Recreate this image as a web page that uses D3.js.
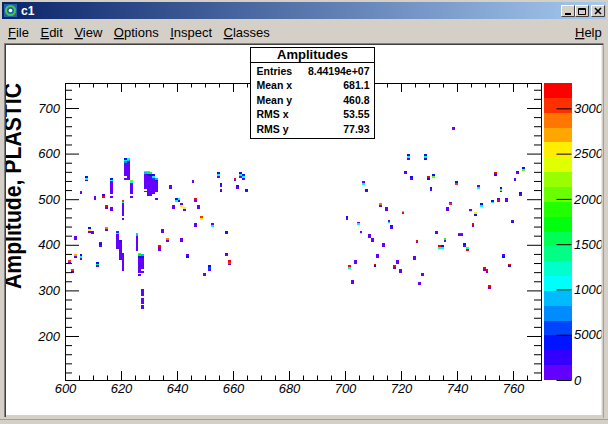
<!DOCTYPE html>
<html>
<head>
<meta charset="utf-8">
<script src="https://cdn.jsdelivr.net/npm/d3@7"></script>
<style>
  body { margin: 0; background: #d4d0c8; overflow: hidden; }
  svg { display: block; }
</style>
</head>
<body>
<div id="c1"></div>
<script>
// ---- data ----
// each spot: x bin (width 1), top y bin (width 4), bin contents going down in y
const spotX = [
  // dense columns 615-630
  621, 622, 616, 623, 628, 629, 630, 631, 632, 620, 618, 619, 620, 625, 626, 627, 627,
  // scattered 600-620
  601, 602, 603, 603, 605, 605, 607, 610, 608, 609, 611, 612, 613, 614, 614, 616,
  // scattered 630-665
  637, 645, 654, 655, 655, 660, 661, 662, 663, 664, 639, 640, 638, 641, 642,
  646, 647, 648, 646, 652, 657, 634, 636, 633, 641, 643, 651, 649, 657, 658,
  // scattered 700-765
  738, 722, 728, 721, 723, 729, 731, 739, 730, 706, 707, 747, 753, 755, 761, 760,
  763, 762, 757, 754, 752, 748, 737, 736, 744, 746, 712, 714, 720, 700, 704, 715,
  716, 745, 759, 705, 708, 709, 732, 740, 741, 735, 713, 725, 733, 734, 742, 743,
  703, 701, 711, 710, 717, 718, 719, 724, 727, 726, 702, 749, 750, 756, 758, 751
];
const spotTop = [
  588, 588, 544, 540, 560, 560, 556, 552, 544, 496, 428, 408, 380, 424, 380, 376, 300,
  364, 344, 416, 376, 376, 516, 548, 504, 436, 428, 360, 404, 508, 484, 436, 480,
  528, 540, 556, 532, 520, 544, 528, 556, 552, 520, 500, 500, 484, 488, 480,
  500, 484, 460, 444, 444, 428, 432, 412, 396, 412, 376, 352, 336, 380, 364,
  656, 596, 596, 560, 548, 548, 552, 536, 524, 536, 520, 528, 556, 524, 560, 544,
  568, 512, 500, 500, 496, 488, 492, 480, 476, 468, 488, 480, 472, 460, 448, 452,
  440, 444, 452, 428, 420, 412, 428, 424, 424, 412, 400, 408, 396, 396, 400, 392,
  364, 352, 376, 356, 352, 364, 344, 372, 336, 316, 320, 348, 344, 376, 356, 308
];
const spotZ = [
  [4200, 12400, 7500, 900, 1100, 800, 900, 1000, 700, 900, 0, 600],
  [12400, 9200, 2500, 900, 1200, 900, 800, 1000, 900, 700, 900, 800],
  [4200, 10800, 900, 1000, 800, 900, 700, 1100, 900, 0, 600],
  [20600, 10800, 900, 800, 1000, 900, 700, 900, 0, 600],
  [12400, 9200, 900, 800, 1000, 900, 700, 1100, 900, 800, 0, 900],
  [14000, 17300, 2500, 900, 1200, 1000, 900, 1100, 800, 900, 1000, 700, 900, 800],
  [15700, 4200, 1000, 900, 1300, 1100, 900, 1000, 800, 900, 700, 1000, 800],
  [2500, 10800, 5800, 1000, 900, 1200, 900, 800, 1000, 900, 700],
  [9200, 4200, 900, 1000, 800, 900, 700, 900, 0, 0, 0, 600],
  [30500, 12400, 900, 1000, 800, 900, 1100, 900, 700, 0, 600],
  [5800, 10800, 900, 1000, 800, 900, 1100, 900, 700, 900],
  [2500, 900, 1000, 900, 800, 1100, 900, 700, 900, 1000, 800],
  [900, 1000, 800, 900, 1200, 900, 700, 900, 1000, 600],
  [19000, 9200, 900, 1000, 800, 900, 1100, 900, 700, 900],
  [12400, 17300, 4200, 900, 1000, 800, 900, 1100, 900, 700, 900, 0, 600],
  [9200, 2500, 900, 1000, 800, 900, 1100, 900, 0, 600],
  [900, 800, 900, 1000, 0, 800, 900, 700, 0, 900, 600],
  // 600-620
  [30500, 900], [30500, 2500], [900, 900], [27200, 900], [4200, 12400, 900], [32200, 900],
  [4200, 12400, 2500], [900, 900], [4200, 25500, 900], [900, 900], [4200, 15700, 900],
  [900, 4200, 900], [2500, 32200], [32200, 900], [28800, 900], [900, 900],
  // 630-665
  [900, 900], [900, 900], [4200, 12400, 900], [4200, 900], [900, 4200], [32200, 900],
  [2500, 900], [4200, 12400, 900], [4200, 10800, 900], [4200, 900], [4200, 12400],
  [10800, 4200], [900, 900], [900, 25500], [25500, 900],
  [32200, 900], [900, 900], [30500, 25500], [900, 900], [900, 12400], [4200, 900],
  [900, 900], [28800, 900], [32200, 900, 900], [900, 900], [900, 4200], [4200, 5800, 900],
  [900, 900], [2500, 900], [32200, 30500, 900],
  // 700-765
  [900, 32200], [4200, 12400, 900], [4200, 14000, 2500], [2500, 900], [4200, 900],
  [32200, 4200], [4200, 20600], [4200, 30500], [4200, 900], [900, 12400], [2500, 900],
  [900, 12400], [32200, 2500], [4200, 20600, 900], [4200, 900], [900, 900],
  [4200, 20600], [4200, 900], [900, 900], [900, 32200], [4200, 12400], [4200, 12400],
  [900, 30500], [900, 900], [900, 25500], [25500, 4200], [28800, 900], [900, 900],
  [12400, 32200], [4200, 900], [900, 12400], [900, 12400],
  [2500, 900], [32200, 900], [900, 4200], [900, 23900], [900, 900], [900, 900],
  [900, 900], [32200, 900], [32200, 900], [19000, 900], [900, 900], [32200, 900],
  [32200, 12400], [4200, 12400], [4200, 900], [12400, 32200],
  [900, 900], [32200, 12400], [900, 900], [32200, 4200], [32200, 900], [900, 900],
  [900, 900], [900, 900], [900, 900], [900, 900], [900, 900], [32200, 900],
  [32200, 900], [900, 4200], [32200, 4200], [32200, 900]
];

const xTickValues = [600, 620, 640, 660, 680, 700, 720, 740, 760];
const yTickValues = [200, 300, 400, 500, 600, 700];
const zTickValues = [0, 5000, 10000, 15000, 20000, 25000, 30000];
const statNames = ["Entries", "Mean x", "Mean y", "RMS x", "RMS y"];
const statValues = ["8.44194e+07", "681.1", "460.8", "53.55", "77.93"];
const histTitle = "Amplitudes";
const yTitle = "Amplitude, PLASTIC";
const menuItems = ["File", "Edit", "View", "Options", "Inspect", "Classes"];

// ---- layout ----
const W = 608, H = 424;
const zMax = 32800, nContours = 20, nColors = 50, yBin = 4;
const font = "'Liberation Sans', Arial, sans-serif";

const svg = d3.select("#c1").append("svg")
  .attr("width", W).attr("height", H)
  .style("font-family", font);

svg.append("rect").attr("width", W).attr("height", H).attr("fill", "#d4d0c8");

// window title bar
const defs = svg.append("defs");
const grad = defs.append("linearGradient").attr("id", "cap");
grad.append("stop").attr("offset", "0%").attr("stop-color", "#0a246a");
grad.append("stop").attr("offset", "100%").attr("stop-color", "#a6caf0");
svg.append("rect").attr("x", 2).attr("y", 2).attr("width", 604).attr("height", 17)
  .attr("fill", "url(#cap)");

// little ROOT icon
svg.append("rect").attr("x", 4).attr("y", 4).attr("width", 13).attr("height", 13)
  .attr("fill", "#2a5fb0");
svg.append("circle").attr("cx", 10.5).attr("cy", 10.5).attr("r", 4.5)
  .attr("fill", "none").attr("stroke", "#3fcf3f").attr("stroke-width", 2);
svg.append("circle").attr("cx", 10.5).attr("cy", 10.5).attr("r", 1.8).attr("fill", "#ffffff");

svg.append("text").attr("x", 21).attr("y", 15).attr("fill", "#fff")
  .style("font-weight", "bold").style("font-size", "12px").text("c1");

// caption buttons
const btnX = [561, 575, 591];
btnX.forEach(function (bx, i) {
  const b = svg.append("g").attr("transform", "translate(" + bx + ",5)");
  b.append("rect").attr("width", 14).attr("height", 12).attr("fill", "#d4d0c8");
  b.append("path").attr("d", "M0.5,11.5V0.5H13.5").attr("stroke", "#fff").attr("fill", "none");
  b.append("path").attr("d", "M0.5,11.5H13.5V0.5").attr("stroke", "#404040").attr("fill", "none");
  if (i === 0) b.append("rect").attr("x", 4).attr("y", 8).attr("width", 6).attr("height", 2).attr("fill", "#000");
  if (i === 1) b.append("path").attr("d", "M3.5,3.5H10.5V9.5H3.5Z M3.5,4.5H10.5")
    .attr("stroke", "#000").attr("fill", "none");
  if (i === 2) b.append("path").attr("d", "M4,3L10,9M10,3L4,9")
    .attr("stroke", "#000").attr("stroke-width", 1.6).attr("fill", "none");
});

// menu bar
function menuText(label, mx) {
  const t = svg.append("text").attr("x", mx).attr("y", 37)
    .style("font-size", "13px").attr("fill", "#000");
  t.append("tspan").style("text-decoration", "underline").text(label[0]);
  t.append("tspan").text(label.slice(1));
  return t;
}
let mx = 8;
menuItems.forEach(function (m) {
  const t = menuText(m, mx);
  mx += t.node().getComputedTextLength() + 11.5;
});
menuText("Help", 575);

// canvas (sunken white area)
svg.append("rect").attr("x", 4).attr("y", 43).attr("width", 599).attr("height", 374).attr("fill", "#808080");
svg.append("rect").attr("x", 5).attr("y", 44).attr("width", 598).attr("height", 373).attr("fill", "#404040");
svg.append("rect").attr("x", 6).attr("y", 45).attr("width", 597).attr("height", 372).attr("fill", "#d4d0c8");
svg.append("rect").attr("x", 6).attr("y", 45).attr("width", 595.5).attr("height", 370).attr("fill", "#fff");
svg.append("line").attr("x1", 603.5).attr("x2", 603.5).attr("y1", 43).attr("y2", 418)
  .attr("stroke", "#a0a0a0");
svg.append("line").attr("x1", 0).attr("x2", W).attr("y1", 419.5).attr("y2", 419.5)
  .attr("stroke", "#a0a0a0");

defs.append("clipPath").attr("id", "canvasClip")
  .append("rect").attr("x", 6).attr("y", 45).attr("width", 595.5).attr("height", 370);
defs.append("clipPath").attr("id", "frameClip")
  .append("rect").attr("x", 65.5).attr("y", 83.5).attr("width", 476).attr("height", 297);

const pad = svg.append("g").attr("clip-path", "url(#canvasClip)");

// scales
const x = d3.scaleLinear().domain([600, 770]).range([65, 541]);
const y = d3.scaleLinear().domain([103.5, 754.8]).range([380, 83]);
const zs = d3.scaleLinear().domain([0, zMax]).range([380, 83]);

// ROOT "pretty palette": 50 colours, 20 contours
function contourColor(k) {
  const idx = Math.floor((k + 0.99) * nColors / nContours);
  return d3.hsl(280 - (idx + 1) * 280 / nColors, 1, 0.5).formatHex();
}
function cellColor(v) {
  return contourColor(Math.min(nContours - 1, Math.floor(v / zMax * nContours)));
}

// histogram cells
const cells = [];
spotX.forEach(function (bx, i) {
  spotZ[i].forEach(function (v, j) {
    if (v > 0) cells.push({ bx: bx, by: spotTop[i] - j * yBin, v: v });
  });
});

pad.append("g").attr("clip-path", "url(#frameClip)")
  .selectAll("rect")
  .data(cells)
  .enter().append("rect")
  .attr("x", function (d) { return x(d.bx) + 0.5; })
  .attr("width", function (d) { return x(d.bx + 1) - x(d.bx); })
  .attr("y", function (d) { return y(d.by + yBin) + 0.5; })
  .attr("height", function (d) { return y(d.by) - y(d.by + yBin); })
  .attr("fill", function (d) { return cellColor(d.v); })
  .attr("shape-rendering", "crispEdges");

// frame
pad.append("rect").attr("x", 65.5).attr("y", 83.5).attr("width", 476).attr("height", 297)
  .attr("fill", "none").attr("stroke", "#000");

// axes: ticks on all four sides, pointing in
const xMinor = d3.range(600, 771, 5).filter(function (v) { return v % 20 !== 0; });
const yMinor = d3.range(120, 751, 20).filter(function (v) { return v % 100 !== 0; });

function styleAxis(g) {
  g.select(".domain").remove();
  g.attr("font-family", font).attr("font-size", 13).attr("font-style", "italic");
  g.selectAll("line").attr("stroke", "#000");
  g.selectAll("text").attr("fill", "#000");
}

pad.append("g").attr("transform", "translate(0,380)")
  .call(d3.axisBottom(x).tickValues(xMinor).tickSize(-4.5).tickFormat(""))
  .call(styleAxis);
pad.append("g").attr("transform", "translate(0,380)")
  .call(d3.axisBottom(x).tickValues(xTickValues).tickSize(-9).tickPadding(4))
  .call(styleAxis);
pad.append("g").attr("transform", "translate(0,83)")
  .call(d3.axisTop(x).tickValues(xMinor).tickSize(-4.5).tickFormat(""))
  .call(styleAxis);
pad.append("g").attr("transform", "translate(0,83)")
  .call(d3.axisTop(x).tickValues(xTickValues).tickSize(-9).tickFormat(""))
  .call(styleAxis);

pad.append("g").attr("transform", "translate(65,0)")
  .call(d3.axisLeft(y).tickValues(yMinor).tickSize(-7).tickFormat(""))
  .call(styleAxis);
pad.append("g").attr("transform", "translate(65,0)")
  .call(d3.axisLeft(y).tickValues(yTickValues).tickSize(-14).tickPadding(5))
  .call(styleAxis);
pad.append("g").attr("transform", "translate(541,0)")
  .call(d3.axisRight(y).tickValues(yMinor).tickSize(-7).tickFormat(""))
  .call(styleAxis);
pad.append("g").attr("transform", "translate(541,0)")
  .call(d3.axisRight(y).tickValues(yTickValues).tickSize(-14).tickFormat(""))
  .call(styleAxis);

// y axis title (its top is cut by the window edge, as in the picture)
pad.append("text")
  .attr("transform", "translate(20.5,186) rotate(-90)")
  .attr("text-anchor", "middle")
  .attr("textLength", 206).attr("lengthAdjust", "spacingAndGlyphs")
  .style("font-weight", "bold").style("font-size", "23px")
  .attr("fill", "#000")
  .text(yTitle);

// colour palette
const bands = d3.range(nContours);
pad.append("g").selectAll("rect")
  .data(bands)
  .enter().append("rect")
  .attr("x", 544).attr("width", 28)
  .attr("y", function (k) { return zs((k + 1) * zMax / nContours); })
  .attr("height", function (k) { return zs(k * zMax / nContours) - zs((k + 1) * zMax / nContours); })
  .attr("fill", contourColor)
  .attr("shape-rendering", "crispEdges");

pad.append("g").attr("transform", "translate(571.5,0)")
  .call(d3.axisRight(zs).tickValues(zTickValues).tickSize(-15).tickPadding(2.5)
    .tickFormat(d3.format("d")))
  .call(styleAxis);

// stats box
const stats = pad.append("g");
stats.append("rect").attr("x", 250.5).attr("y", 47.5).attr("width", 124).attr("height", 91)
  .attr("fill", "#fff").attr("stroke", "#000");
stats.append("line").attr("x1", 250.5).attr("x2", 374.5).attr("y1", 62.5).attr("y2", 62.5)
  .attr("stroke", "#000");
stats.append("text").attr("x", 312.5).attr("y", 58.5).attr("text-anchor", "middle")
  .style("font-weight", "bold").style("font-size", "13px").text(histTitle);
stats.selectAll("text.name")
  .data(statNames)
  .enter().append("text").attr("class", "name")
  .attr("x", 256.5)
  .attr("y", function (d, i) { return 74.5 + i * 14.6; })
  .style("font-weight", "bold").style("font-size", "10.5px")
  .text(function (d) { return d; });
stats.selectAll("text.val")
  .data(statValues)
  .enter().append("text").attr("class", "val")
  .attr("x", 369.5)
  .attr("y", function (d, i) { return 74.5 + i * 14.6; })
  .attr("text-anchor", "end")
  .style("font-weight", "bold").style("font-size", "10.5px")
  .text(function (d) { return d; });
</script>
</body>
</html>
